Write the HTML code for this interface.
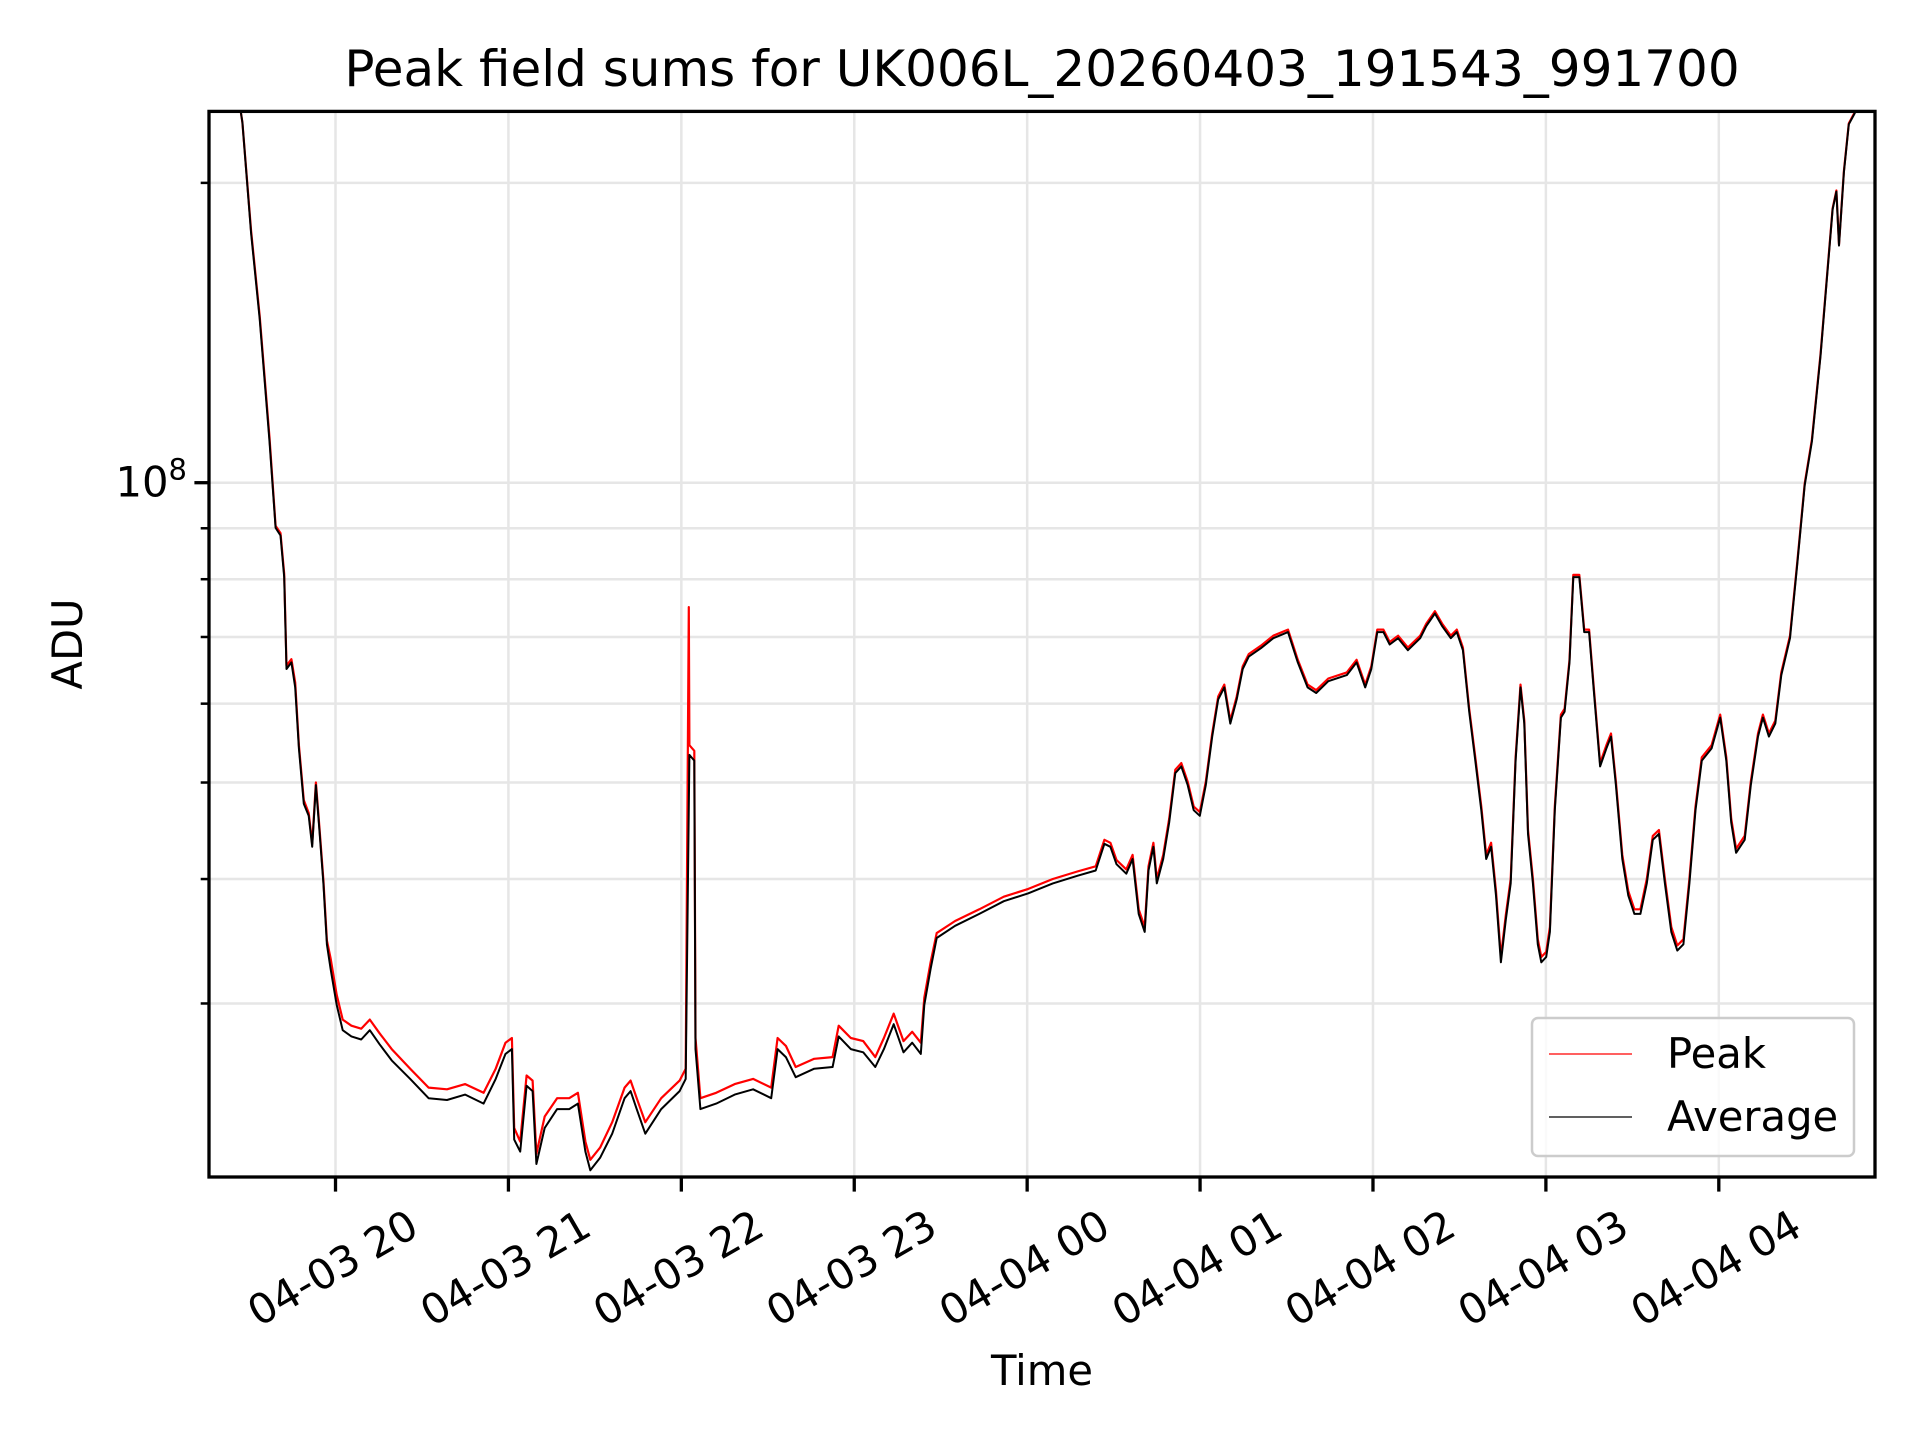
<!DOCTYPE html>
<html><head><meta charset="utf-8">
<style>
html,body{margin:0;padding:0;background:#fff;}
svg{display:block;font-family:"DejaVu Sans","Liberation Sans",sans-serif;}
</style></head>
<body>
<svg id="chart" width="1920" height="1440" viewBox="0 0 1920 1440">
<defs><clipPath id="plotclip"><rect x="209" y="111.4" width="1666" height="1065.6"/></clipPath></defs>
<text x="1042" y="86" font-size="50" text-anchor="middle">Peak field sums for UK006L_20260403_191543_991700</text>
<text transform="translate(82,644) rotate(-90)" font-size="41.7" text-anchor="middle">ADU</text>
<text x="1042" y="1385" font-size="41.7" text-anchor="middle">Time</text>
<g id="grid"></g>
<g id="series" clip-path="url(#plotclip)"></g>
<g id="axes"></g>
<g id="legend">
<rect x="1532" y="1018" width="322" height="138" rx="6" fill="#fff" fill-opacity="0.8" stroke="#ccc" stroke-width="2.5"/>
<line x1="1549" y1="1054" x2="1632" y2="1054" stroke="#f00" stroke-width="1.3"/>
<text x="1667" y="1068" font-size="41.7">Peak</text>
<line x1="1549" y1="1117" x2="1632" y2="1117" stroke="#000" stroke-width="1.3"/>
<text x="1667" y="1131" font-size="41.7">Average</text>
</g>
</svg>
<script>
// time in minutes since 2026-04-03 19:00; values in ADU
const avgTimes = [16,24,27.7,30.7,33.7,37.1,39.2,40.9,42.2,43.0,44.7,46.0,47.3,49.0,50.7,51.9,53.2,54.5,55.8,57.0,58.3,60.4,62.5,65.5,68.9,71.9,75.3,79.5,85.9,92.3,98.7,105.0,111.4,115.6,119.0,121.2,122.0,124.1,126.3,128.4,129.7,132.6,136.9,141.1,144.1,146.7,148.4,151.8,156.0,160.3,162.4,164.5,167.5,173.0,179.4,181.5,182.8,184.5,184.9,186.6,192.1,198.5,204.9,211.2,213.4,216.3,219.7,226.1,232.5,234.6,238.8,243.1,247.3,250.3,253.7,257.1,260.1,263.1,264.3,266.5,268.6,275.0,283.4,291.9,300.4,308.9,317.4,323.8,326.8,328.9,331.0,334.4,336.6,338.7,340.8,342.1,343.8,345.0,347.2,349.3,351.4,353.5,355.7,357.8,359.9,362.0,364.2,366.3,368.4,370.5,372.7,374.8,376.9,381.1,385.4,390.5,393.9,397.3,400.3,404.5,410.9,414.3,417.3,419.4,421.5,423.6,425.8,428.7,432.1,436.4,438.5,441.5,444.0,447.0,449.1,451.2,453.4,455.5,457.6,459.3,461.0,462.7,464.4,466.1,467.8,469.5,471.2,472.5,473.8,475.5,477.2,478.4,480.1,481.4,483.1,485.2,486.5,488.2,489.5,491.6,493.3,495.0,496.7,498.8,501.0,502.6,504.3,506.5,508.6,510.7,512.8,515.0,517.1,519.2,521.3,523.5,525.6,527.7,529.8,531.9,534.1,537.5,540.5,542.6,544.3,546.0,549.0,551.1,553.6,555.3,557.4,559.6,561.7,564.7,567.2,569.8,572.3,575.3,577.4,579.5,580.8,581.7,583.4,585.1,587.2,594];
const avgValues = [3.0e8,2.7e8,2.3e8,1.78e8,1.46e8,1.10e8,9.01e7,8.85e7,8.04e7,6.50e7,6.60e7,6.23e7,5.41e7,4.76e7,4.63e7,4.31e7,4.97e7,4.44e7,3.96e7,3.44e7,3.25e7,2.99e7,2.82e7,2.78e7,2.76e7,2.82e7,2.73e7,2.63e7,2.52e7,2.41e7,2.40e7,2.43e7,2.38e7,2.52e7,2.67e7,2.70e7,2.19e7,2.13e7,2.48e7,2.45e7,2.07e7,2.25e7,2.35e7,2.35e7,2.38e7,2.13e7,2.04e7,2.10e7,2.22e7,2.41e7,2.45e7,2.35e7,2.22e7,2.35e7,2.45e7,2.52e7,5.33e7,5.26e7,2.70e7,2.35e7,2.38e7,2.43e7,2.46e7,2.41e7,2.70e7,2.65e7,2.53e7,2.58e7,2.59e7,2.78e7,2.70e7,2.68e7,2.59e7,2.70e7,2.86e7,2.68e7,2.74e7,2.67e7,2.99e7,3.25e7,3.49e7,3.59e7,3.69e7,3.80e7,3.87e7,3.96e7,4.03e7,4.08e7,4.34e7,4.31e7,4.14e7,4.05e7,4.19e7,3.69e7,3.54e7,4.08e7,4.31e7,3.96e7,4.19e7,4.56e7,5.11e7,5.19e7,4.97e7,4.69e7,4.63e7,4.97e7,5.56e7,6.06e7,6.23e7,5.73e7,6.06e7,6.50e7,6.69e7,6.82e7,6.98e7,7.08e7,6.60e7,6.23e7,6.15e7,6.32e7,6.41e7,6.60e7,6.23e7,6.50e7,7.08e7,7.08e7,6.88e7,6.98e7,6.79e7,6.98e7,7.18e7,7.39e7,7.18e7,6.98e7,7.08e7,6.79e7,5.89e7,5.26e7,4.69e7,4.19e7,4.31e7,3.85e7,3.30e7,3.64e7,3.96e7,5.26e7,6.23e7,5.73e7,4.44e7,3.96e7,3.44e7,3.30e7,3.34e7,3.54e7,4.69e7,5.81e7,5.89e7,6.60e7,8.04e7,8.04e7,7.08e7,7.08e7,6.15e7,5.19e7,5.41e7,5.56e7,4.97e7,4.19e7,3.85e7,3.69e7,3.69e7,3.96e7,4.38e7,4.44e7,3.96e7,3.54e7,3.39e7,3.44e7,3.96e7,4.69e7,5.26e7,5.41e7,5.81e7,5.26e7,4.56e7,4.25e7,4.38e7,4.97e7,5.56e7,5.81e7,5.56e7,5.73e7,6.41e7,6.98e7,8.27e7,9.94e7,1.10e8,1.34e8,1.59e8,1.88e8,1.96e8,1.73e8,2.05e8,2.29e8,2.35e8,3.0e8];
const peakTimes = [16,24,27.7,30.7,33.7,37.1,39.2,40.9,42.2,43.0,44.7,46.0,47.3,49.0,50.7,51.9,53.2,54.5,55.8,57.0,58.3,60.4,62.5,65.5,68.9,71.9,75.3,79.5,85.9,92.3,98.7,105.0,111.4,115.6,119.0,121.2,122.0,124.1,126.3,128.4,129.7,132.6,136.9,141.1,144.1,146.7,148.4,151.8,156.0,160.3,162.4,164.5,167.5,173.0,179.4,181.5,182.6,182.8,184.5,184.9,186.6,192.1,198.5,204.9,211.2,213.4,216.3,219.7,226.1,232.5,234.6,238.8,243.1,247.3,250.3,253.7,257.1,260.1,263.1,264.3,266.5,268.6,275.0,283.4,291.9,300.4,308.9,317.4,323.8,326.8,328.9,331.0,334.4,336.6,338.7,340.8,342.1,343.8,345.0,347.2,349.3,351.4,353.5,355.7,357.8,359.9,362.0,364.2,366.3,368.4,370.5,372.7,374.8,376.9,381.1,385.4,390.5,393.9,397.3,400.3,404.5,410.9,414.3,417.3,419.4,421.5,423.6,425.8,428.7,432.1,436.4,438.5,441.5,444.0,447.0,449.1,451.2,453.4,455.5,457.6,459.3,461.0,462.7,464.4,466.1,467.8,469.5,471.2,472.5,473.8,475.5,477.2,478.4,480.1,481.4,483.1,485.2,486.5,488.2,489.5,491.6,493.3,495.0,496.7,498.8,501.0,502.6,504.3,506.5,508.6,510.7,512.8,515.0,517.1,519.2,521.3,523.5,525.6,527.7,529.8,531.9,534.1,537.5,540.5,542.6,544.3,546.0,549.0,551.1,553.6,555.3,557.4,559.6,561.7,564.7,567.2,569.8,572.3,575.3,577.4,579.5,580.8,581.7,583.4,585.1,587.2,594];
const peakValues = [3.0e8,2.7e8,2.3e8,1.79e8,1.47e8,1.11e8,9.05e7,8.9e7,8.1e7,6.55e7,6.65e7,6.3e7,5.45e7,4.8e7,4.66e7,4.34e7,5.0e7,4.47e7,3.99e7,3.47e7,3.33e7,3.06e7,2.89e7,2.85e7,2.83e7,2.89e7,2.80e7,2.70e7,2.58e7,2.47e7,2.46e7,2.49e7,2.44e7,2.58e7,2.74e7,2.77e7,2.25e7,2.18e7,2.54e7,2.51e7,2.12e7,2.31e7,2.41e7,2.41e7,2.44e7,2.18e7,2.09e7,2.15e7,2.28e7,2.47e7,2.51e7,2.41e7,2.28e7,2.41e7,2.51e7,2.58e7,7.5e7,5.45e7,5.38e7,2.77e7,2.41e7,2.44e7,2.49e7,2.52e7,2.47e7,2.77e7,2.72e7,2.59e7,2.64e7,2.65e7,2.85e7,2.77e7,2.75e7,2.65e7,2.77e7,2.93e7,2.75e7,2.81e7,2.74e7,3.04e7,3.3e7,3.53e7,3.63e7,3.73e7,3.84e7,3.91e7,4.0e7,4.07e7,4.12e7,4.38e7,4.35e7,4.18e7,4.09e7,4.23e7,3.73e7,3.58e7,4.12e7,4.35e7,4.0e7,4.23e7,4.6e7,5.15e7,5.23e7,5.01e7,4.73e7,4.67e7,5.01e7,5.6e7,6.1e7,6.27e7,5.77e7,6.1e7,6.54e7,6.73e7,6.86e7,7.02e7,7.12e7,6.64e7,6.27e7,6.19e7,6.36e7,6.45e7,6.64e7,6.27e7,6.54e7,7.12e7,7.12e7,6.92e7,7.02e7,6.83e7,7.02e7,7.22e7,7.43e7,7.22e7,7.02e7,7.12e7,6.83e7,5.93e7,5.3e7,4.73e7,4.23e7,4.35e7,3.89e7,3.34e7,3.68e7,4.0e7,5.3e7,6.27e7,5.77e7,4.48e7,4.0e7,3.48e7,3.34e7,3.38e7,3.58e7,4.73e7,5.85e7,5.93e7,6.64e7,8.08e7,8.08e7,7.12e7,7.12e7,6.19e7,5.23e7,5.45e7,5.6e7,5.01e7,4.23e7,3.89e7,3.73e7,3.73e7,4.0e7,4.42e7,4.48e7,4.0e7,3.58e7,3.43e7,3.48e7,4.0e7,4.73e7,5.3e7,5.45e7,5.85e7,5.3e7,4.6e7,4.29e7,4.42e7,5.01e7,5.6e7,5.85e7,5.6e7,5.77e7,6.45e7,7.02e7,8.31e7,9.98e7,1.105e8,1.345e8,1.595e8,1.885e8,1.965e8,1.735e8,2.055e8,2.295e8,2.355e8,3.0e8];
const xTickMinutes = [60,120,180,240,300,360,420,480,540];
const xTickLabels = ["04-03 20","04-03 21","04-03 22","04-03 23","04-04 00","04-04 01","04-04 02","04-04 03","04-04 04"];
const yMinorTicks = [3e7,4e7,5e7,6e7,7e7,8e7,9e7,2e8];
const yMajorTicks = [1e8];

const NS="http://www.w3.org/2000/svg";
const L=209,R=1875,T=111.4,B=1177;
const xMin=16.1,xMax=594.2,yLogMin=7.3029,yLogMax=8.3728;
function xs(m){return L+(m-xMin)/(xMax-xMin)*(R-L);}
function ys(v){return B-(Math.log10(v)-yLogMin)/(yLogMax-yLogMin)*(B-T);}
function mk(tag,attrs,parent){const e=document.createElementNS(NS,tag);for(const k in attrs)e.setAttribute(k,attrs[k]);parent.appendChild(e);return e;}
const grid=document.getElementById('grid'),axes=document.getElementById('axes'),series=document.getElementById('series');

xTickMinutes.forEach((m,i)=>{
  const x=xs(m);
  const g=mk('line',{x1:x,y1:T,x2:x,y2:B,stroke:'#e6e6e6','stroke-width':2.5},grid);
  
  
  const t=mk('line',{x1:x,y1:B,x2:x,y2:B+14.6,stroke:'#000','stroke-width':3.3},axes);
  
  
  const lb=mk('text',{x:0,y:0,'font-size':41.7,'text-anchor':'middle','dominant-baseline':'central',transform:`translate(${x-3},${1268}) rotate(-30)`},axes);
  lb.textContent=xTickLabels[i];
  
  
});
yMinorTicks.concat(yMajorTicks).forEach(v=>{
  const y=ys(v);
  const g=mk('line',{x1:L,y1:y,x2:R,y2:y,stroke:'#e6e6e6','stroke-width':2.5},grid);
  
  
  const major=yMajorTicks.includes(v);
  const t=mk('line',{x1:L-(major?14.6:8.3),y1:y,x2:L,y2:y,stroke:'#000','stroke-width':major?3.3:2.5},axes);
  
  
  if(major){
    const lb=mk('text',{x:L-22,y:y+14,'font-size':41.7,'text-anchor':'end'},axes);
    lb.innerHTML='10<tspan dy="-17" font-size="29">'+Math.round(Math.log10(v))+'</tspan>';
    
    
  }
});
const frame=mk('rect',{x:L,y:T,width:R-L,height:B-T,fill:'none',stroke:'#000','stroke-width':3.3},axes);



function path(ts,vs){return ts.map((t,i)=>(i?'L':'M')+xs(t).toFixed(1)+','+ys(vs[i]).toFixed(1)).join('');}
const pk=mk('path',{d:path(peakTimes,peakValues),fill:'none',stroke:'#f00','stroke-width':2.2,'stroke-linejoin':'round'},series);


const av=mk('path',{d:path(avgTimes,avgValues),fill:'none',stroke:'#000','stroke-width':2.0,'stroke-linejoin':'round'},series);


</script>
</body></html>
